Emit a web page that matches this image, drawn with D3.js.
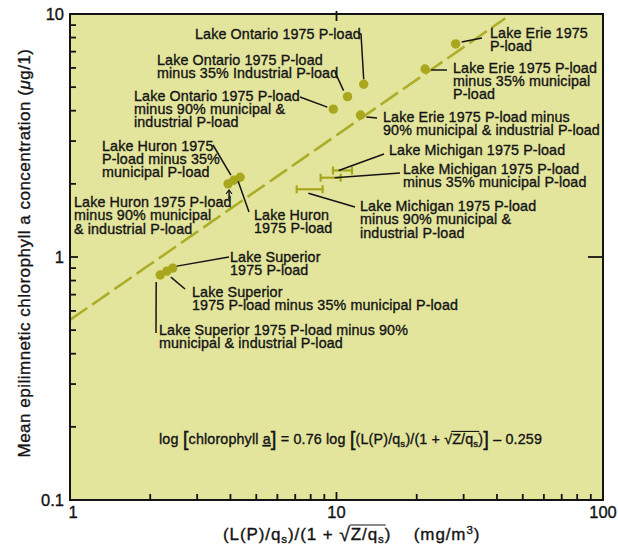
<!DOCTYPE html>
<html>
<head>
<meta charset="utf-8">
<script src="https://cdn.jsdelivr.net/npm/d3@7"></script>
<style>
  body { margin: 0; background: #ffffff; }
  text { font-family: "Liberation Sans", Arial, Helvetica, sans-serif; fill: #141414;
         stroke: #141414; stroke-width: 0.35px; white-space: pre; }
</style>
</head>
<body>
<svg id="chart" width="618" height="552"></svg>
<script>
// ---- data -------------------------------------------------------------
// Lakes plotted as single points (loading scenario -> mean chlorophyll a)
const pointNames = [
  "Erie 1975", "Erie -35% municipal", "Erie -90% municipal & industrial",
  "Ontario 1975", "Ontario -35% industrial", "Ontario -90% municipal & industrial",
  "Huron 1975", "Huron -35% municipal", "Huron -90% municipal & industrial",
  "Superior 1975", "Superior -35% municipal", "Superior -90% municipal & industrial"
];
const pointX = [28.0, 21.5, 12.3, 12.65, 11.0, 9.73, 4.35, 4.12, 3.92, 2.43, 2.31, 2.18];
const pointY = [7.53, 5.94, 3.84, 5.14, 4.57, 4.06, 2.13, 2.07, 2.00, 0.90, 0.875, 0.843];

// Lake Michigan plotted as a range in loading
const michiganNames = ["Michigan 1975", "Michigan -35% municipal", "Michigan -90% municipal & industrial"];
const michiganLow  = [9.70, 8.72, 7.09];
const michiganHigh = [11.43, 10.37, 8.87];
const michiganY    = [2.27, 2.12, 1.90];

// Regression: log[chl a] = 0.76 log[x] - 0.259
const fitSlope = 0.76;
const fitIntercept = -0.259;

const xTickLabels = ["1", "10", "100"];
const yTickLabels = ["0.1", "1", "10"];

// ---- layout -----------------------------------------------------------
const plot = { left: 70, right: 603, top: 14, bottom: 500 };
const colors = { bg: "#e3e59d", mark: "#a9a71d", fit: "#adad28", ink: "#141414" };
const noteSize = 14.3, lineH = 13.4;

const svg = d3.select("#chart");
const x = d3.scaleLog().domain([1, 100]).range([plot.left, plot.right]);
const y = d3.scaleLog().domain([0.1, 10]).range([plot.bottom, plot.top]);

svg.append("rect")
  .attr("x", plot.left).attr("y", plot.top)
  .attr("width", plot.right - plot.left).attr("height", plot.bottom - plot.top)
  .attr("fill", colors.bg);

// ---- regression line --------------------------------------------------
const fitX = d3.range(0, 61).map(i => Math.pow(10, i * 2 / 60));
const fitPts = fitX.map(v => [v, Math.pow(10, fitSlope * Math.log10(v) + fitIntercept)])
  .filter(d => d[1] <= 10);
svg.append("path")
  .datum(fitPts)
  .attr("d", d3.line().x(d => x(d[0])).y(d => y(d[1])))
  .attr("fill", "none").attr("stroke", colors.fit)
  .attr("stroke-width", 2.6).attr("stroke-dasharray", "21,6");

// ---- marks ------------------------------------------------------------
svg.append("g").selectAll("circle")
  .data(pointX.map((v, i) => ({ x: v, y: pointY[i] })))
  .join("circle")
  .attr("cx", d => x(d.x)).attr("cy", d => y(d.y))
  .attr("r", 4.7).attr("fill", colors.mark);

const bars = svg.append("g").attr("stroke", colors.mark).attr("stroke-width", 2.2).attr("fill", "none");
michiganY.forEach((v, i) => {
  const yy = y(v), x0 = x(michiganLow[i]), x1 = x(michiganHigh[i]);
  bars.append("line").attr("x1", x0).attr("x2", x1).attr("y1", yy).attr("y2", yy);
  [x0, x1].forEach(xx => bars.append("line").attr("x1", xx).attr("x2", xx).attr("y1", yy - 4).attr("y2", yy + 4));
});

// ---- annotations -------------------------------------------------------
// text lines, first baseline, leader start and offset of the leader end from the mark
const pointNotes = [
  { lines: ["Lake Erie 1975", "P-load"], tx: 490, ty: 38, from: [[482, 38]], end: [6, -2] },
  { lines: ["Lake Erie 1975 P-load", "minus 35% municipal", "P-load"], tx: 453, ty: 72.5, from: [[447, 70]], end: [6, 1] },
  { lines: ["Lake Erie 1975 P-load minus", "90% municipal & industrial P-load"], tx: 383, ty: 122, from: [[377, 118]], end: [6, 2] },
  { lines: ["Lake Ontario 1975 P-load"], tx: 195, ty: 39, from: [[358, 33], [361, 34]], end: [0, -5] },
  { lines: ["Lake Ontario 1975 P-load", "minus 35% Industrial P-load"], tx: 157, ty: 64.5, from: [[335, 72]], end: [-4, -6] },
  { lines: ["Lake Ontario 1975 P-load", "minus 90% municipal &", "industrial P-load"], tx: 134, ty: 100.5, from: [[300, 97]], end: [-6, -2] },
  { lines: ["Lake Huron", "1975 P-load"], tx: 254, ty: 220, from: [[249, 212]], end: [-2, 4] },
  { lines: ["Lake Huron 1975", "P-load minus 35%", "municipal P-load"], tx: 102, ty: 150.5, from: [[213, 145]], end: [-3, -5] },
  { lines: ["Lake Huron 1975 P-load", "minus 90% municipal", "& industrial P-load"], tx: 74, ty: 207, from: [[229, 199]], end: [1, 7] },
  { lines: ["Lake Superior", "1975 P-load"], tx: 230, ty: 262, from: [[229, 257]], end: [4, -2] },
  { lines: ["Lake Superior", "1975 P-load minus 35% municipal P-load"], tx: 192, ty: 297, from: [[185, 289]], end: [4, 6] },
  { lines: ["Lake Superior 1975 P-load minus 90%", "municipal & industrial P-load"], tx: 159, ty: 335, from: [[156, 333]], end: [-4, 7] }
];
const michiganNotes = [
  { lines: ["Lake Michigan 1975 P-load"], tx: 389, ty: 155, from: [[384, 154]], end: [0.3, 0] },
  { lines: ["Lake Michigan 1975 P-load", "minus 35% municipal P-load"], tx: 403, ty: 174, from: [[400, 173]], end: [0.7, 0] },
  { lines: ["Lake Michigan 1975 P-load", "minus 90% municipal &", "industrial P-load"], tx: 360, ty: 211, from: [[355, 207]], end: [0.45, 4] }
];

const notes = svg.append("g");
function drawNote(n, endPt) {
  const pts = n.from.concat([endPt]);
  notes.append("path").attr("d", d3.line()(pts))
    .attr("fill", "none").attr("stroke", colors.ink).attr("stroke-width", 1.5);
  const t = notes.append("text").attr("x", n.tx).attr("y", n.ty).attr("font-size", noteSize)
    .attr("letter-spacing", 0.12);
  n.lines.forEach((s, i) => t.append("tspan").attr("x", n.tx).attr("dy", i ? lineH : 0).text(s));
}
pointNotes.forEach((n, i) => drawNote(n, [x(pointX[i]) + n.end[0], y(pointY[i]) + n.end[1]]));
michiganNotes.forEach((n, i) => {
  const xl = x(michiganLow[i]), xh = x(michiganHigh[i]);
  drawNote(n, [xl + (xh - xl) * n.end[0], y(michiganY[i]) + n.end[1]]);
});
// small caret on the Huron -90% leader
notes.append("path").attr("d", "M226,194 L229,190 L232,194")
  .attr("fill", "none").attr("stroke", colors.ink).attr("stroke-width", 1.2);

// ---- axes ---------------------------------------------------------------
const frame = svg.append("g").attr("stroke", colors.ink).attr("fill", "none");
frame.append("rect")
  .attr("x", plot.left).attr("y", plot.top)
  .attr("width", plot.right - plot.left).attr("height", plot.bottom - plot.top)
  .attr("stroke-width", 2);

const decadeTicks = (lo, hi) => {
  const out = [];
  for (let p = lo; p < hi; p++) for (let m = 1; m < 10; m++) out.push(m * Math.pow(10, p));
  out.push(Math.pow(10, hi));
  return out;
};
const isMajor = v => Math.abs(Math.log10(v) - Math.round(Math.log10(v))) < 1e-9;
decadeTicks(-1, 1).forEach(v => {
  frame.append("line").attr("x1", plot.left).attr("x2", plot.left + (isMajor(v) ? 8 : 6))
    .attr("y1", y(v)).attr("y2", y(v)).attr("stroke-width", 1.8);
});
decadeTicks(0, 2).forEach(v => {
  frame.append("line").attr("x1", x(v)).attr("x2", x(v))
    .attr("y1", plot.bottom).attr("y2", plot.bottom - (isMajor(v) ? 8 : 6)).attr("stroke-width", 1.8);
});
// opposite-side major ticks
frame.append("line").attr("x1", x(10)).attr("x2", x(10)).attr("y1", plot.top - 3).attr("y2", plot.top + 7).attr("stroke-width", 1.8);
frame.append("line").attr("x1", plot.right - 15).attr("x2", plot.right).attr("y1", y(1)).attr("y2", y(1)).attr("stroke-width", 1.8);

const yTickVals = [0.1, 1, 10];
svg.append("g").selectAll("text").data(yTickVals).join("text")
  .attr("x", 64).attr("y", d => y(d) + 6)
  .attr("text-anchor", "end").attr("font-size", 16.5)
  .text((d, i) => yTickLabels[i]);
const xTickVals = [1, 10, 100];
svg.append("g").selectAll("text").data(xTickVals).join("text")
  .attr("x", d => x(d) + (d === 1 ? 3 : 0)).attr("y", 518)
  .attr("text-anchor", "middle").attr("font-size", 16.5)
  .text((d, i) => xTickLabels[i]);

// y title
const yt = svg.append("text")
  .attr("transform", "translate(30,253) rotate(-90)")
  .attr("text-anchor", "middle").attr("font-size", 17).attr("letter-spacing", 0.5);
yt.append("tspan").text("Mean epilimnetic chlorophyll a concentration (");
yt.append("tspan").attr("font-style", "italic").text("\u03bc");
yt.append("tspan").text("g/1)");

// text with sub-/superscripts, enlarged brackets and a radical overline
function richText(g, x0, y0, parts, size, spacing) {
  const t = g.append("text").attr("x", x0).attr("y", y0).attr("font-size", size)
    .attr("letter-spacing", spacing || 0);
  const spans = [];
  parts.forEach(p => {
    const s = t.append("tspan").text(p.s);
    if (p.sub) s.attr("font-size", size * 0.68).attr("dy", 3);
    else if (p.up) s.attr("font-size", size * 0.68).attr("dy", -6);
    else if (p.big) s.attr("font-size", size * 1.45).attr("dy", 2);
    else if (p.root) s.attr("font-size", size * 1.15).attr("dy", 1);
    if (p.restore) s.attr("dy", p.restore);
    if (p.ul) s.attr("text-decoration", "underline");
    spans.push({ node: s.node(), p });
  });
  const marked = spans.filter(d => d.p.over);
  if (marked.length) {
    const b0 = marked[0].node.getBBox(), b1 = marked[marked.length - 1].node.getBBox();
    g.append("line").attr("x1", b0.x - 1).attr("x2", b1.x + b1.width + 1)
      .attr("y1", y0 - size * 0.88).attr("y2", y0 - size * 0.88)
      .attr("stroke", colors.ink).attr("stroke-width", 1.1);
  }
  return t;
}

// equation
richText(svg, 159, 444, [
  { s: "log " }, { s: "[", big: true }, { s: "chlorophyll ", restore: -2 }, { s: "a", ul: true },
  { s: "]", big: true }, { s: " = 0.76 log ", restore: -2 }, { s: "[", big: true },
  { s: "(L(P)/q", restore: -2 }, { s: "s", sub: true }, { s: ")/(1 + ", restore: -3 },
  { s: "\u221a" }, { s: "Z/q", over: true }, { s: "s", sub: true, over: true },
  { s: ")", restore: -3 }, { s: "]", big: true }, { s: " \u2013 0.259", restore: -2 }
], 14.3, 0.15);

// x title
richText(svg, 223, 540, [
  { s: "(L(P)/q" }, { s: "s", sub: true }, { s: ")/(1 + ", restore: -3 },
  { s: "\u221a", root: true }, { s: "Z/q", over: true, restore: -1 }, { s: "s", sub: true, over: true },
  { s: ")    (mg/m", restore: -3 }, { s: "3", up: true }, { s: ")", restore: 6 }
], 17, 0.9);
</script>
</body>
</html>
